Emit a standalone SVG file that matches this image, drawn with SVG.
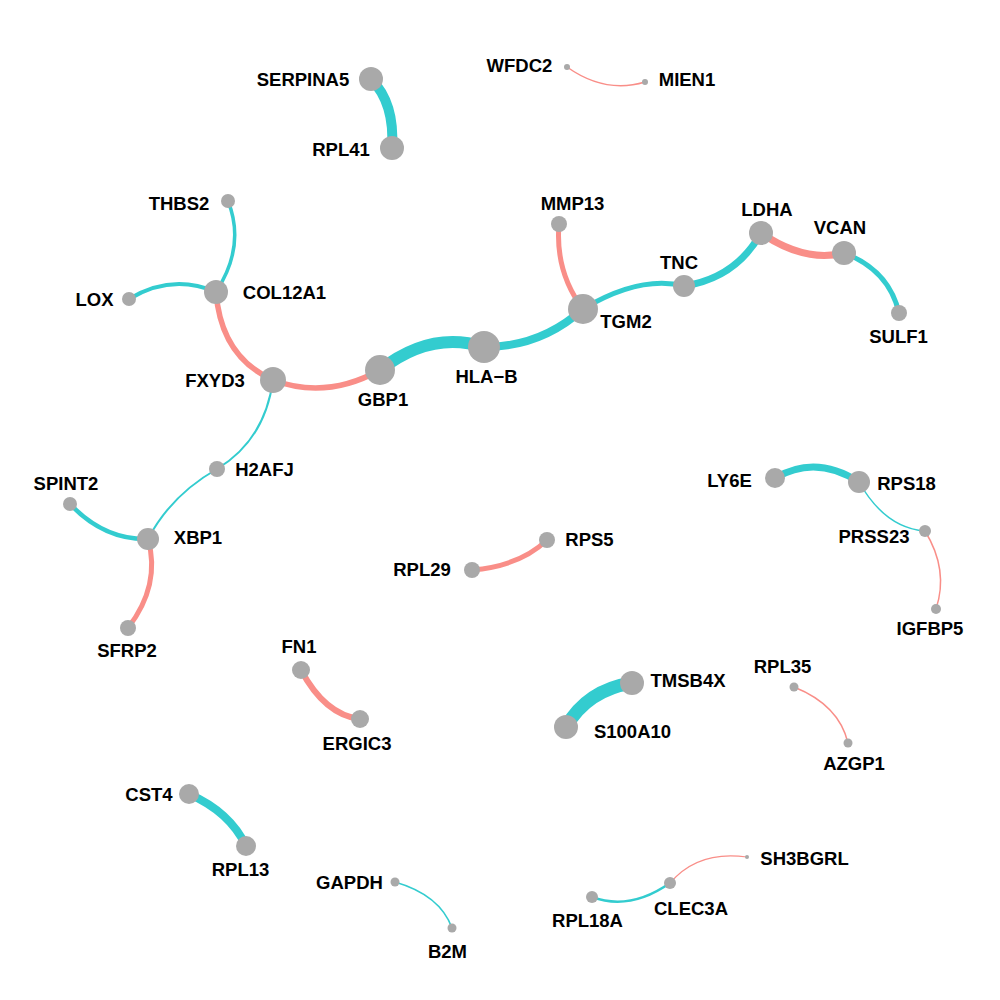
<svg xmlns="http://www.w3.org/2000/svg" width="1000" height="1000" viewBox="0 0 1000 1000">
<style>
.bg{fill:#ffffff}
.e{fill:none;stroke-linecap:butt}
.p{stroke:#F98E88}
.t{stroke:#33CCCF}
.n{fill:#A9A9A9}
text{font-family:"Liberation Sans",Arial,sans-serif;font-weight:bold;font-size:18.5px;fill:#000;text-anchor:middle}
</style>
<rect class="bg" x="0" y="0" width="1000" height="1000"/>
<g id="edges">
<path class="e t" stroke-width="10" d="M371,79 Q395,103 392,148"/>
<path class="e p" stroke-width="1.5" d="M567,67 Q605,94 645,82"/>
<path class="e t" stroke-width="3.5" d="M228,201 Q246,246 216,292"/>
<path class="e t" stroke-width="4" d="M129,299 Q172,273 216,292"/>
<path class="e p" stroke-width="5.5" d="M216,292 Q221,357 273,380"/>
<path class="e p" stroke-width="5.5" d="M273,380 Q326,400 380,370"/>
<path class="e t" stroke-width="12" d="M380,370 Q431,330 484,347"/>
<path class="e t" stroke-width="8" d="M484,347 Q541,347 583,309"/>
<path class="e p" stroke-width="5" d="M559,224 Q555,272 583,309"/>
<path class="e t" stroke-width="5" d="M583,309 Q640,275 684,286"/>
<path class="e t" stroke-width="7" d="M684,286 Q736,278 761,233"/>
<path class="e p" stroke-width="7" d="M761,233 Q805,263 844,253"/>
<path class="e t" stroke-width="5" d="M844,253 Q889,270 899,313"/>
<path class="e t" stroke-width="2" d="M273,380 Q265,440 217,469"/>
<path class="e t" stroke-width="2" d="M217,469 Q171,495 148,539"/>
<path class="e t" stroke-width="4.5" d="M70,504 Q104,540 148,539"/>
<path class="e p" stroke-width="5" d="M148,539 Q161,585 128,628"/>
<path class="e t" stroke-width="7" d="M775,478 Q816,454 859,482"/>
<path class="e t" stroke-width="1.5" d="M859,482 Q885,528 925,531"/>
<path class="e p" stroke-width="1.5" d="M925,531 Q949,570 936,609"/>
<path class="e p" stroke-width="5" d="M472,570 Q520,566 547,540"/>
<path class="e p" stroke-width="6" d="M301,670 Q325,715 360,719"/>
<path class="e t" stroke-width="13" d="M632,683 Q587,690 566,727"/>
<path class="e p" stroke-width="1.5" d="M794,687 Q839,705 848,743"/>
<path class="e t" stroke-width="8" d="M189,794 Q230,812 246,846"/>
<path class="e t" stroke-width="1.5" d="M395,882 Q440,895 452,928"/>
<path class="e t" stroke-width="2.5" d="M592,897 Q630,911 670,883"/>
<path class="e p" stroke-width="1.2" d="M670,883 Q698,850 747,857"/>
</g>
<g id="SERPINA5"><circle class="n" cx="371" cy="79" r="12"/><text x="303" y="86">SERPINA5</text></g>
<g id="RPL41"><circle class="n" cx="392" cy="148" r="12"/><text x="341" y="156">RPL41</text></g>
<g id="WFDC2"><circle class="n" cx="567" cy="67" r="3"/><text x="519.5" y="72">WFDC2</text></g>
<g id="MIEN1"><circle class="n" cx="645" cy="82" r="3"/><text x="687" y="86">MIEN1</text></g>
<g id="THBS2"><circle class="n" cx="228" cy="201" r="7"/><text x="179" y="210">THBS2</text></g>
<g id="COL12A1"><circle class="n" cx="216" cy="292" r="12"/><text x="284.5" y="299">COL12A1</text></g>
<g id="LOX"><circle class="n" cx="129" cy="299" r="7"/><text x="94.5" y="306">LOX</text></g>
<g id="FXYD3"><circle class="n" cx="273" cy="380" r="13"/><text x="215" y="387">FXYD3</text></g>
<g id="GBP1"><circle class="n" cx="380" cy="370" r="15"/><text x="383" y="406">GBP1</text></g>
<g id="HLA-B"><circle class="n" cx="484" cy="347" r="16"/><text x="486.5" y="383">HLA−B</text></g>
<g id="TGM2"><circle class="n" cx="583" cy="309" r="15"/><text x="626" y="328">TGM2</text></g>
<g id="MMP13"><circle class="n" cx="559" cy="224" r="8"/><text x="572.5" y="210">MMP13</text></g>
<g id="TNC"><circle class="n" cx="684" cy="286" r="11"/><text x="679" y="269">TNC</text></g>
<g id="LDHA"><circle class="n" cx="761" cy="233" r="12"/><text x="767" y="216">LDHA</text></g>
<g id="VCAN"><circle class="n" cx="844" cy="253" r="12"/><text x="840" y="234">VCAN</text></g>
<g id="SULF1"><circle class="n" cx="899" cy="313" r="8"/><text x="898.5" y="343">SULF1</text></g>
<g id="H2AFJ"><circle class="n" cx="217" cy="469" r="8"/><text x="264.5" y="476">H2AFJ</text></g>
<g id="SPINT2"><circle class="n" cx="70" cy="504" r="7"/><text x="66" y="490">SPINT2</text></g>
<g id="XBP1"><circle class="n" cx="148" cy="539" r="11"/><text x="198" y="544">XBP1</text></g>
<g id="SFRP2"><circle class="n" cx="128" cy="628" r="8"/><text x="127" y="657">SFRP2</text></g>
<g id="LY6E"><circle class="n" cx="775" cy="478" r="10"/><text x="729.5" y="487">LY6E</text></g>
<g id="RPS18"><circle class="n" cx="859" cy="482" r="11"/><text x="906.5" y="490">RPS18</text></g>
<g id="PRSS23"><circle class="n" cx="925" cy="531" r="6"/><text x="874" y="543">PRSS23</text></g>
<g id="IGFBP5"><circle class="n" cx="936" cy="609" r="5"/><text x="930" y="635">IGFBP5</text></g>
<g id="RPS5"><circle class="n" cx="547" cy="540" r="8"/><text x="589.5" y="546">RPS5</text></g>
<g id="RPL29"><circle class="n" cx="472" cy="570" r="8"/><text x="422" y="576">RPL29</text></g>
<g id="FN1"><circle class="n" cx="301" cy="670" r="9"/><text x="299" y="653">FN1</text></g>
<g id="ERGIC3"><circle class="n" cx="360" cy="719" r="9"/><text x="357" y="750">ERGIC3</text></g>
<g id="TMSB4X"><circle class="n" cx="632" cy="683" r="12"/><text x="688" y="687">TMSB4X</text></g>
<g id="S100A10"><circle class="n" cx="566" cy="727" r="12"/><text x="632.5" y="738">S100A10</text></g>
<g id="RPL35"><circle class="n" cx="794" cy="687" r="4.5"/><text x="782.5" y="673">RPL35</text></g>
<g id="AZGP1"><circle class="n" cx="848" cy="743" r="4.5"/><text x="854" y="770">AZGP1</text></g>
<g id="CST4"><circle class="n" cx="189" cy="794" r="10"/><text x="149" y="801">CST4</text></g>
<g id="RPL13"><circle class="n" cx="246" cy="846" r="10"/><text x="240.5" y="876">RPL13</text></g>
<g id="GAPDH"><circle class="n" cx="395" cy="882" r="4.5"/><text x="349.5" y="889">GAPDH</text></g>
<g id="B2M"><circle class="n" cx="452" cy="928" r="4.5"/><text x="447.5" y="958">B2M</text></g>
<g id="SH3BGRL"><circle class="n" cx="747" cy="857" r="2"/><text x="804.5" y="865">SH3BGRL</text></g>
<g id="CLEC3A"><circle class="n" cx="670" cy="883" r="6"/><text x="691" y="915">CLEC3A</text></g>
<g id="RPL18A"><circle class="n" cx="592" cy="897" r="6"/><text x="587.5" y="927">RPL18A</text></g>
</svg>
